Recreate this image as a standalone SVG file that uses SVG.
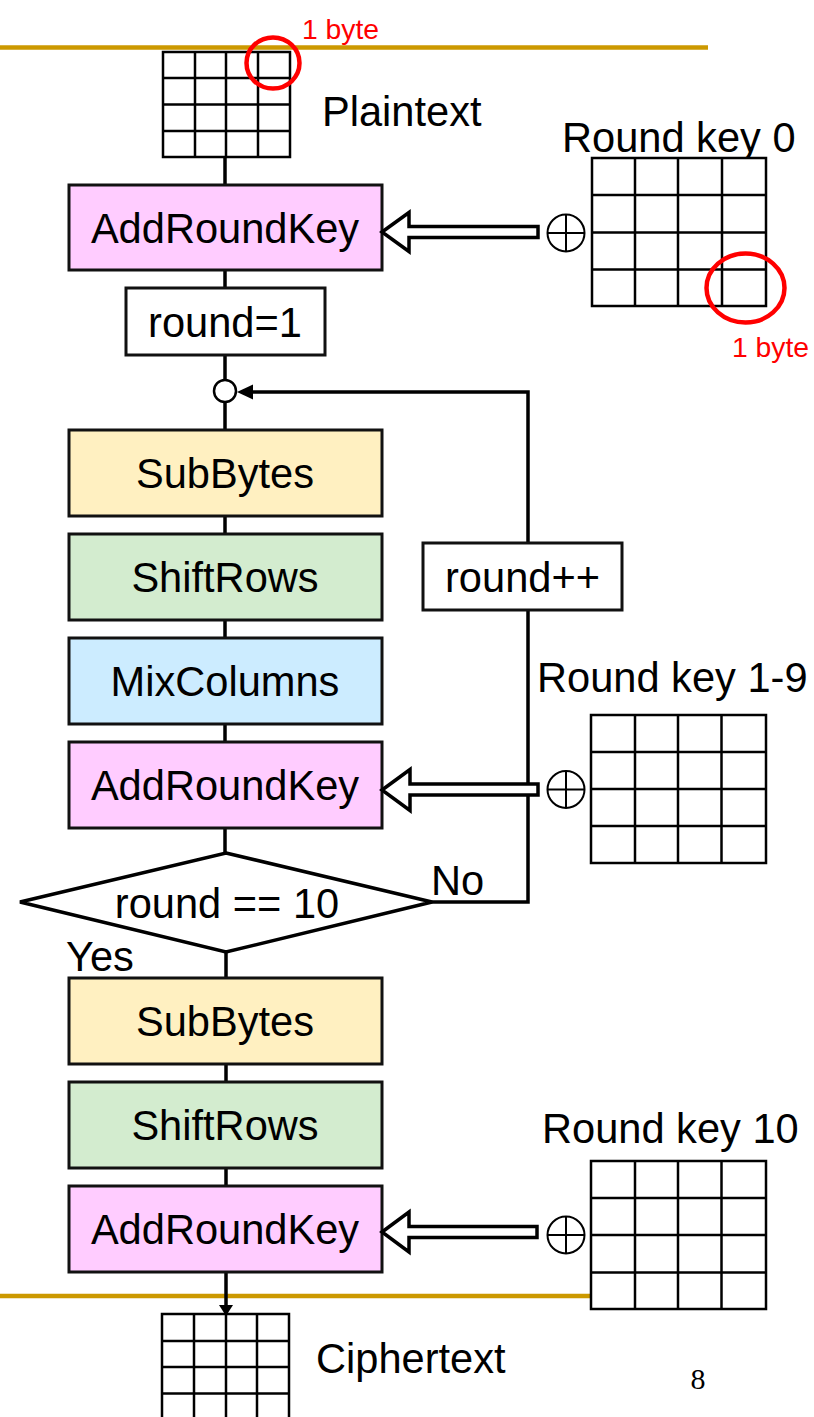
<svg xmlns="http://www.w3.org/2000/svg" width="814" height="1417" viewBox="0 0 814 1417">
  <defs>
    <style>
      .box { stroke: #111; stroke-width: 3; }
      .ark { fill: #FFCCFF; }
      .sub { fill: #FFF0C1; }
      .shf { fill: #D3ECCF; }
      .mix { fill: #CCECFF; }
      .plain { fill: #FFFFFF; }
      .lbl { font-family: "Liberation Sans", Arial, sans-serif; font-size: 41.6px; fill: #000; }
      .mid { text-anchor: middle; }
      .red { font-family: "Liberation Sans", Arial, sans-serif; font-size: 28.3px; fill: #FF0000; }
      .wire { fill: none; stroke: #000; stroke-width: 3.5; }
      .grid { fill: #FFFFFF; stroke: #000; stroke-width: 2.5; }
      .gl { stroke: #000; stroke-width: 2.5; }
      .gold { stroke: #CC9900; stroke-width: 4.5; }
      .ring { fill: none; stroke: #FF0000; stroke-width: 4.5; }
      .blk { fill: #FFFFFF; stroke: #000; stroke-width: 3.5; stroke-linejoin: miter; }
      .xor { fill: #FFFFFF; stroke: #000; stroke-width: 2; }
    </style>
  </defs>

  <!-- slide rules -->
  <g id="rules">
    <line class="gold" x1="0" y1="47.5" x2="708" y2="47.5"/>
    <line class="gold" x1="0" y1="1296" x2="708" y2="1296"/>
  </g>

  <!-- connectors -->
  <g id="connectors">
    <line class="wire" x1="225" y1="157" x2="225" y2="185"/>
    <line class="wire" x1="225" y1="270" x2="225" y2="288"/>
    <line class="wire" x1="225" y1="355" x2="225" y2="380"/>
    <line class="wire" x1="225" y1="402" x2="225" y2="430"/>
    <line class="wire" x1="225" y1="516" x2="225" y2="534"/>
    <line class="wire" x1="225" y1="620" x2="225" y2="638"/>
    <line class="wire" x1="225" y1="724" x2="225" y2="742"/>
    <line class="wire" x1="225" y1="828" x2="225" y2="853"/>
    <line class="wire" x1="226" y1="952" x2="226" y2="978"/>
    <line class="wire" x1="226" y1="1064" x2="226" y2="1082"/>
    <line class="wire" x1="226" y1="1168" x2="226" y2="1186"/>
    <line class="wire" x1="226" y1="1272" x2="226" y2="1306"/>
    <polygon points="219,1305 233,1305 226,1316" fill="#000"/>
    <!-- loop back: No branch -> round++ -> junction -->
    <polyline class="wire" points="432,902 528,902 528,610"/>
    <polyline class="wire" points="528,543 528,392 250,392"/>
    <polygon points="237,392 253,384.5 253,399.5" fill="#000"/>
  </g>

  <!-- plaintext state -->
  <g id="plaintext">
    <rect class="grid" x="163" y="52" width="127" height="105"/>
    <line class="gl" x1="195" y1="52" x2="195" y2="157"/>
    <line class="gl" x1="226" y1="52" x2="226" y2="157"/>
    <line class="gl" x1="258" y1="52" x2="258" y2="157"/>
    <line class="gl" x1="163" y1="78" x2="290" y2="78"/>
    <line class="gl" x1="163" y1="104.5" x2="290" y2="104.5"/>
    <line class="gl" x1="163" y1="131" x2="290" y2="131"/>
    <ellipse class="ring" cx="273" cy="63" rx="26.5" ry="25.5"/>
    <text class="red" x="302" y="39">1 byte</text>
    <text class="lbl" x="322" y="126">Plaintext</text>
  </g>

  <!-- round key 0 -->
  <g id="roundkey0">
    <text class="lbl" x="562" y="152">Round key 0</text>
    <rect class="grid" x="592" y="158" width="174" height="148"/>
    <line class="gl" x1="635" y1="158" x2="635" y2="306"/>
    <line class="gl" x1="678" y1="158" x2="678" y2="306"/>
    <line class="gl" x1="722" y1="158" x2="722" y2="306"/>
    <line class="gl" x1="592" y1="195" x2="766" y2="195"/>
    <line class="gl" x1="592" y1="232.5" x2="766" y2="232.5"/>
    <line class="gl" x1="592" y1="269.5" x2="766" y2="269.5"/>
    <ellipse class="ring" cx="745.5" cy="288" rx="39" ry="34.5"/>
    <text class="red" x="732" y="357">1 byte</text>
  </g>

  <!-- initial AddRoundKey -->
  <g id="ark0">
    <rect class="box ark" x="69" y="185" width="313" height="85"/>
    <text class="lbl mid" x="225" y="242.5">AddRoundKey</text>
    <polygon class="blk" points="382,232 409,212.5 409,226.5 538,226.5 538,237.5 409,237.5 409,251.5"/>
    <circle class="xor" cx="566" cy="233" r="18.5"/>
    <line class="gl" x1="547.5" y1="233" x2="584.5" y2="233" style="stroke-width:2"/>
    <line class="gl" x1="566" y1="214.5" x2="566" y2="251.5" style="stroke-width:2"/>
  </g>

  <!-- round counter init -->
  <g id="init">
    <rect class="box plain" x="126" y="288" width="199" height="67"/>
    <text class="lbl mid" x="225" y="336.5">round=1</text>
  </g>

  <!-- loop junction -->
  <g id="junction">
    <circle cx="225" cy="391" r="11" fill="#FFFFFF" stroke="#000" stroke-width="2.5"/>
  </g>

  <!-- main round -->
  <g id="subbytes1">
    <rect class="box sub" x="69" y="430" width="313" height="86"/>
    <text class="lbl mid" x="225" y="488">SubBytes</text>
  </g>
  <g id="shiftrows1">
    <rect class="box shf" x="69" y="534" width="313" height="86"/>
    <text class="lbl mid" x="225" y="592">ShiftRows</text>
  </g>
  <g id="mixcolumns">
    <rect class="box mix" x="69" y="638" width="313" height="86"/>
    <text class="lbl mid" x="225" y="696">MixColumns</text>
  </g>
  <g id="ark1">
    <rect class="box ark" x="69" y="742" width="313" height="86"/>
    <text class="lbl mid" x="225" y="800">AddRoundKey</text>
    <polygon class="blk" points="382,790 410,769.5 410,784 538,784 538,795 410,795 410,810.5"/>
  </g>

  <!-- increment -->
  <g id="increment">
    <rect class="box plain" x="423" y="543" width="199" height="67"/>
    <text class="lbl mid" x="522.5" y="592">round++</text>
  </g>

  <!-- round key 1-9 -->
  <g id="roundkey1to9">
    <text class="lbl" x="537" y="692">Round key 1-9</text>
    <rect class="grid" x="591" y="715" width="175" height="148"/>
    <line class="gl" x1="635" y1="715" x2="635" y2="863"/>
    <line class="gl" x1="678" y1="715" x2="678" y2="863"/>
    <line class="gl" x1="721.5" y1="715" x2="721.5" y2="863"/>
    <line class="gl" x1="591" y1="752" x2="766" y2="752"/>
    <line class="gl" x1="591" y1="789" x2="766" y2="789"/>
    <line class="gl" x1="591" y1="826" x2="766" y2="826"/>
    <circle class="xor" cx="566" cy="789.5" r="18.5"/>
    <line class="gl" x1="547.5" y1="789.5" x2="584.5" y2="789.5" style="stroke-width:2"/>
    <line class="gl" x1="566" y1="771" x2="566" y2="808" style="stroke-width:2"/>
  </g>

  <!-- decision -->
  <g id="decision">
    <polygon points="226,853 432,902 226,952 20,902" fill="#FFFFFF" stroke="#000" stroke-width="3.5"/>
    <text class="lbl mid" x="227" y="918">round == 10</text>
    <text class="lbl" x="431" y="895">No</text>
    <text class="lbl" x="66" y="971">Yes</text>
  </g>

  <!-- final round -->
  <g id="subbytes2">
    <rect class="box sub" x="69" y="978" width="313" height="86"/>
    <text class="lbl mid" x="225" y="1036">SubBytes</text>
  </g>
  <g id="shiftrows2">
    <rect class="box shf" x="69" y="1082" width="313" height="86"/>
    <text class="lbl mid" x="225" y="1140">ShiftRows</text>
  </g>
  <g id="ark2">
    <rect class="box ark" x="69" y="1186" width="313" height="86"/>
    <text class="lbl mid" x="225" y="1244">AddRoundKey</text>
    <polygon class="blk" points="382,1232 409,1212 409,1226.5 537,1226.5 537,1237.5 409,1237.5 409,1252"/>
  </g>

  <!-- round key 10 -->
  <g id="roundkey10">
    <text class="lbl" x="542" y="1143">Round key 10</text>
    <rect class="grid" x="591" y="1161" width="175" height="148"/>
    <line class="gl" x1="635" y1="1161" x2="635" y2="1309"/>
    <line class="gl" x1="678" y1="1161" x2="678" y2="1309"/>
    <line class="gl" x1="721.5" y1="1161" x2="721.5" y2="1309"/>
    <line class="gl" x1="591" y1="1198" x2="766" y2="1198"/>
    <line class="gl" x1="591" y1="1235" x2="766" y2="1235"/>
    <line class="gl" x1="591" y1="1272.5" x2="766" y2="1272.5"/>
    <circle class="xor" cx="566" cy="1235" r="18.5"/>
    <line class="gl" x1="547.5" y1="1235" x2="584.5" y2="1235" style="stroke-width:2"/>
    <line class="gl" x1="566" y1="1216.5" x2="566" y2="1253.5" style="stroke-width:2"/>
  </g>

  <!-- ciphertext state -->
  <g id="ciphertext">
    <rect class="grid" x="162" y="1314" width="127" height="106" style="fill:none"/>
    <line class="gl" x1="194" y1="1314" x2="194" y2="1420"/>
    <line class="gl" x1="226" y1="1314" x2="226" y2="1420"/>
    <line class="gl" x1="257" y1="1314" x2="257" y2="1420"/>
    <line class="gl" x1="162" y1="1341" x2="289" y2="1341"/>
    <line class="gl" x1="162" y1="1367" x2="289" y2="1367"/>
    <line class="gl" x1="162" y1="1393.5" x2="289" y2="1393.5"/>
    <text class="lbl" x="316" y="1373">Ciphertext</text>
  </g>

  <!-- page number -->
  <text x="698" y="1389" text-anchor="middle" font-family="Liberation Serif, 'Times New Roman', serif" font-size="30" fill="#000">8</text>
</svg>
